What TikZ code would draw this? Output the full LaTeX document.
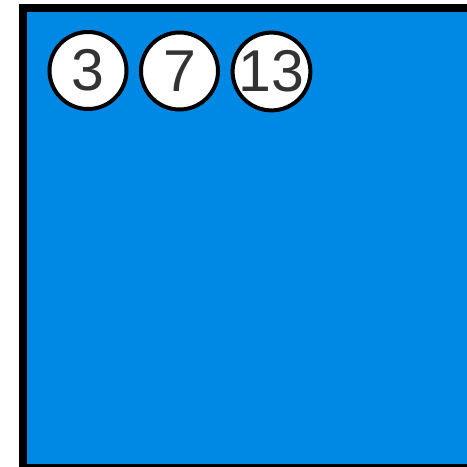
\documentclass[tikz,border=0pt]{standalone}
\usepackage{fontspec}
\setmainfont{Liberation Sans}
\definecolor{bgblue}{RGB}{0,137,228}
\definecolor{numgray}{RGB}{51,51,51}
\begin{document}
\begin{tikzpicture}[x=1pt,y=-1pt,
  ball/.style={circle,draw=black,line width=4pt,fill=white,minimum size=77pt,inner sep=0pt,
    text=numgray,font=\fontsize{59}{59}\selectfont}]
\useasboundingbox (0,0) rectangle (467,467);
\clip (0,0) rectangle (467,467);
\draw[line width=8pt,fill=bgblue] (23,7.5) rectangle (520,467.7);
\node[ball] (c3) at (88,70.5) {3};
\node[ball] (c7) at (179.5,71) {7};
\node[ball] (c13) at (271.5,71.5) {13};
\end{tikzpicture}
\end{document}
